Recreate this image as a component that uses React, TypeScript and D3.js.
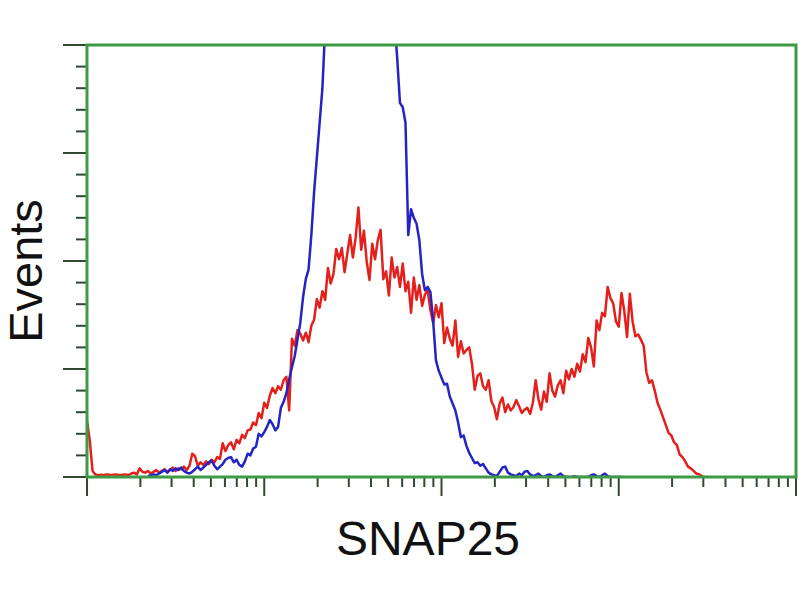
import React from "react";
import * as d3 from "d3";

// histogram counts per log channel (256 channels over 4 decades)
const redCounts = [
  13.0, 8.4, 1.4,
  0.6, 0.4, 0.5, 0.4, 0.6, 0.5, 0.4, 0.6, 0.5, 0.4, 0.5, 0.6, 0.4, 0.8, 1.0, 0.6,
  2.0, 1.2,
  1.0, 1.4, 0.8, 1.2, 1.6, 1.0, 1.4,
  1.8, 1.2, 1.6, 2.2, 1.4, 2.0,
  1.8, 2.4, 1.6, 2.6, 5.4,
  4.8, 2.6, 3.4, 2.8, 3.6,
  3.0, 4.0, 3.4, 4.6, 4.2,
  7.8, 6.0, 7.4, 8.0, 6.4,
  8.6, 7.8, 9.8, 9.0, 10.8,
  11.0, 12.6, 12.0, 14.8, 13.6,
  17.2, 16.0, 18.8, 20.6, 19.4,
  21.0, 20.2, 22.4, 23.2, 15.4,
  32.0, 30.4, 34.0, 33.2, 31.6,
  33.4, 31.2, 35.0, 36.4, 41.2,
  39.2, 43.0, 41.0, 48.4, 44.8,
  47.0, 52.8, 50.4, 53.0, 47.4,
  51.8, 56.0, 50.8, 55.4, 62.4,
  52.6, 57.0, 49.8, 45.6, 54.0,
  50.4, 54.8, 57.2, 45.8, 47.6,
  42.0, 50.8, 46.2, 48.6, 44.0,
  49.4, 43.0, 45.2, 38.0, 46.2,
  41.0, 44.4, 39.6, 42.2, 43.2,
  38.6, 35.6, 39.8, 37.0, 40.2,
  31.0, 34.6, 32.0, 30.4, 36.2,
  27.8, 31.4, 28.6, 29.4, 30.0,
  26.2, 20.2, 23.4, 24.0, 21.0,
  20.2, 22.4, 17.6, 16.2, 13.4,
  17.0, 18.4, 15.0, 16.8, 15.4,
  16.2, 17.8, 16.4, 14.8, 15.6,
  16.0, 14.6, 17.2, 22.4, 18.0,
  15.6, 19.8, 17.4, 24.0, 20.0,
  18.6, 21.2, 22.4, 19.4, 24.6,
  22.6, 25.0, 23.2, 26.2, 24.4,
  28.4, 26.6, 32.2, 30.0, 25.6,
  36.2, 34.0, 38.0, 37.2, 44.0,
  41.4, 40.2, 36.0, 34.8, 42.6,
  38.4, 32.4, 42.4, 36.0, 32.6,
  33.0, 31.8, 30.4, 24.2, 21.8,
  22.4, 20.0, 17.2, 15.6, 13.8,
  12.0, 10.2, 9.6, 8.0, 7.4,
  5.2, 4.6, 3.6, 2.4, 2.0,
  1.4, 0.8, 0.6, 0.2, 0
];

const blueStart = 22;
const blueCounts = [
  0.2, 0.4, 0.6, 0.4, 0.8,
  1.2, 1.6, 1.0, 1.8, 1.4,
  2.0, 1.6, 2.2, 1.4, 1.0,
  0.8, 1.2, 1.8, 2.4, 1.6,
  2.2, 2.8, 3.4, 3.8, 2.6,
  1.8, 2.4, 3.0, 4.0, 4.4,
  4.6, 3.4, 4.0, 2.8, 2.4,
  3.6, 5.4, 5.0, 6.6, 7.0,
  10.0, 9.4, 10.4, 11.6, 13.2,
  12.2, 10.8, 11.6, 16.0, 17.4,
  19.4, 22.6, 25.4, 28.0, 31.8,
  35.6, 41.6, 45.8, 48.0, 56.0,
  66.0, 74.0, 82.0, 90.0, 104.0,
  108, 116, 124, 130, 138, 144, 150, 156, 160, 164, 166, 168, 170,
  168, 166, 162, 158, 152, 146, 140, 132, 126, 120, 114, 106,
  97.0, 86.6, 85.6, 82.0, 56.0, 62.0, 60.0,
  58.6, 54.8, 47.0, 43.2, 44.0,
  42.8, 36.0, 27.0, 24.6, 23.0,
  21.4, 21.6, 18.6, 17.0, 15.4,
  12.6, 9.2, 9.6, 7.2, 5.6,
  4.4, 3.2, 3.4, 2.6, 3.0,
  2.0, 1.0, 0.6, 0.4, 0.2,
  1.2, 2.2, 2.4, 1.0, 0.6,
  0.4, 0.2, 0.8, 0.4, 1.2,
  1.4, 0.6, 0.2, 0.4, 0.8,
  0.2, 0.0, 0.4, 0.6, 0.2,
  0.0, 0.4, 0.8, 0.2, 0.0,
  0, 0, 0.2, 0, 0,
  0, 0, 0, 0.4, 0.6,
  0.2, 0, 0.4, 0.8, 0.2,
  0, 0, 0, 0, 0
];

const xDecades = [1, 10, 100, 1000, 10000];
const yTickValues = d3.range(0, 101, 5);
const xLabel = "SNAP25";
const yLabel = "Events";

const green = "#3f9a45";
const tickColor = "#2f4a30";

const App = () => {
  const width = 800;
  const height = 600;
  const left = 87, right = 796, top = 45, bottom = 477;

  const x = d3.scaleLog().domain([1, 10000]).range([left, right]);
  const y = d3.scaleLinear().domain([0, 100]).range([bottom, top]);
  const chanValue = (ch: number) => Math.pow(10, ch / 64);

  const line = d3.line<[number, number]>()
    .x(d => x(chanValue(d[0])))
    .y(d => y(d[1]));

  const redPts: [number, number][] = redCounts.map((v, i) => [i, v]);
  const bluePts: [number, number][] = blueCounts.map((v, i) => [i + blueStart, v]);

  const xMinor: number[] = [];
  xDecades.slice(0, -1).forEach(d => {
    for (let k = 2; k <= 9; k++) xMinor.push(d * k);
  });

  return (
    <svg width={width} height={height} style={{ position: "absolute", left: 0, top: 0, background: "#fff" }}>
      <defs>
        <clipPath id="plot">
          <rect x={left} y={top} width={right - left} height={bottom - top} />
        </clipPath>
      </defs>

      <g clipPath="url(#plot)" fill="none" strokeWidth={2.5} strokeLinejoin="round">
        <path d={line(redPts) || ""} stroke="#e3201c" />
        <path d={line(bluePts) || ""} stroke="#2424c4" />
      </g>

      {/* y ticks */}
      {yTickValues.map(v => {
        const major = v % 25 === 0;
        return (
          <line key={"y" + v} x1={major ? 63 : 76} x2={left} y1={y(v)} y2={y(v)}
            stroke={tickColor} strokeWidth={2} />
        );
      })}

      {/* x ticks */}
      {xMinor.map(v => (
        <line key={"xm" + v} x1={x(v)} x2={x(v)} y1={bottom} y2={487} stroke={tickColor} strokeWidth={2} />
      ))}
      {xDecades.map(v => (
        <line key={"xM" + v} x1={x(v)} x2={x(v)} y1={bottom} y2={496} stroke={tickColor} strokeWidth={2} />
      ))}

      {/* frame */}
      <rect x={left} y={top} width={right - left} height={bottom - top} fill="none" stroke={green} strokeWidth={3} />

      <text x={428} y={555} textAnchor="middle" fontFamily="'Liberation Sans', Arial, sans-serif"
        fontSize={48} fill="#111">{xLabel}</text>
      <text transform="translate(42,271) rotate(-90)" textAnchor="middle"
        fontFamily="'Liberation Sans', Arial, sans-serif" fontSize={47} fill="#111">{yLabel}</text>
    </svg>
  );
};

export default App;
